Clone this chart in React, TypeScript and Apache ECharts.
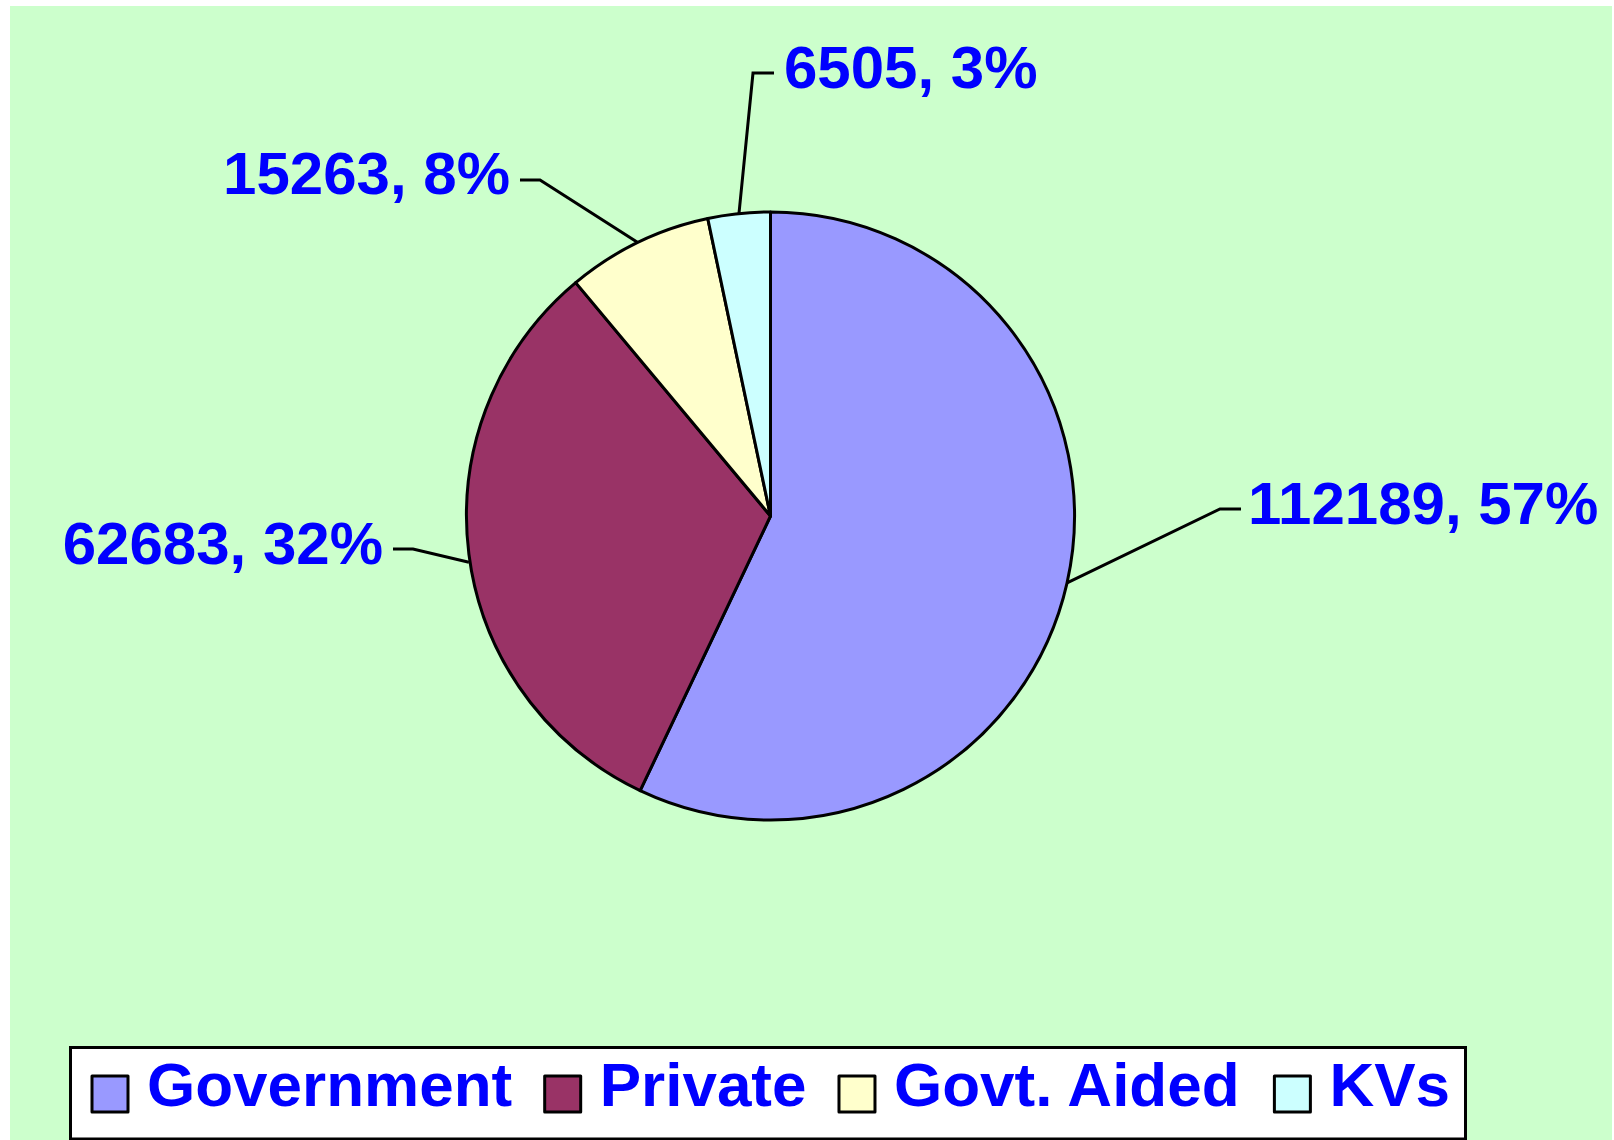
import React, { useEffect, useRef } from "react";
import * as echarts from "echarts";

const categories = ["Government", "Private", "Govt. Aided", "KVs"];
const values = [112189, 62683, 15263, 6505];
const sliceColors = ["#9999FF", "#993366", "#FFFFCC", "#CCFFFF"];

// label placement (layout only, chart pixel coordinates)
const labelSpots = [
  { x: 1238, y: 497, align: "left", elbowX: 1210, endX: 1231, lineY: 503, startDy: 0 },
  { x: 373, y: 537, align: "right", elbowX: 403, endX: 383, lineY: 543, startDy: 8 },
  { x: 500, y: 167, align: "right", elbowX: 530, endX: 510, lineY: 174, startDy: 0 },
  { x: 774, y: 61, align: "left", elbowX: 743, endX: 764, lineY: 67, startDy: 0 },
];

const FONT = "'Liberation Sans', Arial, Helvetica, sans-serif";
// square legend key sitting in the lower part of a 36x56 cell
const LEGEND_ICON = "path://M0,0 M0,20 L36,20 L36,56 L0,56 Z";

export default function App() {
  const ref = useRef<HTMLDivElement>(null);

  useEffect(() => {
    if (!ref.current) return;
    const chart = echarts.init(ref.current, null, { renderer: "svg" });
    const data = categories.map((name, i) => ({
      name,
      value: values[i],
      itemStyle: { color: sliceColors[i] },
    }));
    chart.setOption({
      animation: false,
      backgroundColor: "#CCFFCC",
      graphic: [
        {
          type: "rect",
          z: 0,
          shape: { x: 60.5, y: 1041.5, width: 1395, height: 91.5 },
          style: { fill: "#FFFFFF", stroke: "#000000", lineWidth: 3 },
        },
      ],
      legend: {
        data: categories,
        orient: "horizontal",
        left: 80.5,
        top: 1047,
        padding: 0,
        itemWidth: 36,
        itemHeight: 56,
        itemGap: 31,
        icon: LEGEND_ICON,
        selectedMode: false,
        itemStyle: { borderColor: "#000000", borderWidth: 3 },
        textStyle: {
          color: "#0000FF",
          fontSize: 62,
          fontWeight: "bold",
          fontFamily: FONT,
          lineHeight: 62,
          padding: [0, 0, 0, 14],
        },
      },
      series: [
        {
          type: "pie",
          center: [760.5, 510],
          radius: 304,
          startAngle: 90,
          clockwise: true,
          percentPrecision: 0,
          avoidLabelOverlap: false,
          data,
          itemStyle: { borderColor: "#000000", borderWidth: 3 },
          emphasis: { disabled: true },
          label: {
            show: true,
            position: "outside",
            formatter: "{c}, {d}%",
            color: "#0000FF",
            fontSize: 60,
            fontWeight: "bold",
            fontFamily: FONT,
          },
          labelLine: {
            show: true,
            length: 30,
            length2: 20,
            smooth: false,
            lineStyle: { color: "#000000", width: 3 },
          },
          labelLayout: (params: any) => {
            const s = labelSpots[params.dataIndex];
            const start =
              params.labelLinePoints && params.labelLinePoints[0]
                ? params.labelLinePoints[0]
                : [s.elbowX, s.lineY];
            return {
              x: s.x,
              y: s.y,
              align: s.align,
              verticalAlign: "middle",
              hideOverlap: false,
              labelLinePoints: [
                [start[0], start[1] + s.startDy],
                [s.elbowX, s.lineY],
                [s.endX, s.lineY],
              ],
            };
          },
        },
      ],
    });
    return () => chart.dispose();
  }, []);

  return (
    <div
      style={{
        position: "absolute",
        left: 0,
        top: 0,
        width: 1614,
        height: 1140,
        background: "#FFFFFF",
        overflow: "hidden",
      }}
    >
      <div
        ref={ref}
        style={{ position: "absolute", left: 10, top: 6, width: 1602, height: 1134 }}
      />
    </div>
  );
}
